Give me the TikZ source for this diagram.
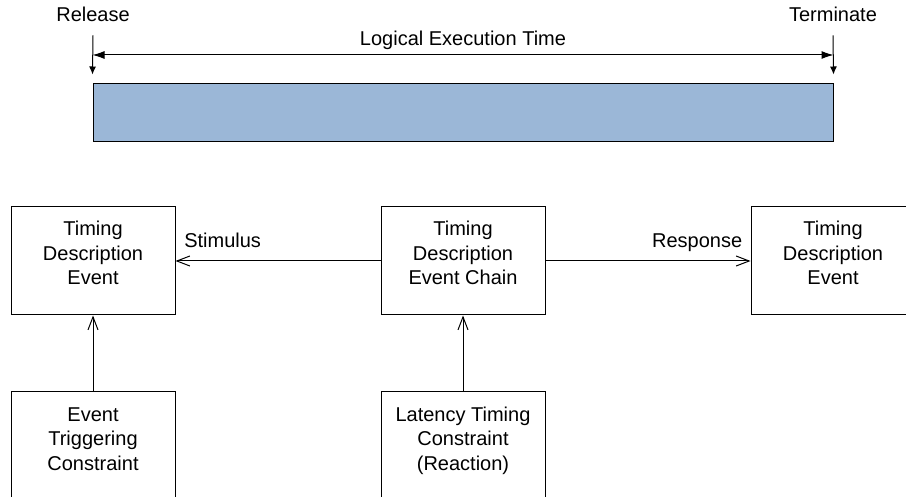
\documentclass[tikz,border=0pt]{standalone}
\usepackage{fontspec}
\setmainfont{Liberation Sans}
\usepackage{xcolor}
\usepackage{tikz}
\usetikzlibrary{positioning}
\usetikzlibrary{arrows.meta}
\definecolor{letblue}{HTML}{9BB7D7}

\begin{document}
\begin{tikzpicture}[x=1pt, y=1pt, node distance=76pt and 205pt, font=\fontsize{20}{24.5}\selectfont,
  tdbox/.style={rectangle, draw=black, line width=1pt, minimum width=164pt, minimum height=108pt, align=center, text height=63pt, text depth=15pt},
  flow/.style={line width=1pt, -{Straight Barb[length=13pt,width=10pt]}},
  edgelabel/.style={anchor=base, yshift=13pt}]
\path[use as bounding box, clip] (0,0) rectangle (906,-497);

\node (let) at (463,-113) [rectangle, draw=black, line width=1pt, fill=letblue, minimum width=740pt, minimum height=58pt] {};
\node (release) at (93,-22) [anchor=base, inner sep=0pt] {Release};
\node (terminate) at (833,-22) [anchor=base, inner sep=0pt] {Terminate};

\draw[-{Latex[length=8pt,width=7pt]}, line width=1pt] ([yshift=-13pt]release.south) -- ([yshift=9pt]let.north west);
\draw[-{Latex[length=8pt,width=7pt]}, line width=1pt] ([yshift=-13pt]terminate.south) -- ([yshift=9pt]let.north east);
\draw[{Latex[length=12pt,width=8pt]}-{Latex[length=12pt,width=8pt]}, line width=1pt] ([yshift=28.5pt]let.north west) -- node[anchor=base, yshift=9.5pt] (lettext) {Logical Execution Time} ([yshift=28.5pt]let.north east);

\node (stimevt) at (93,-261) [tdbox] {Timing\\Description\\Event};
\node (chain) [tdbox, right=of stimevt] {Timing\\Description\\Event Chain};
\node (respevt) [tdbox, right=of chain] {Timing\\Description\\Event};
\node (trigger) [tdbox, below=of stimevt] {Event\\Triggering\\Constraint};
\node (latency) [tdbox, below=of chain] {Latency Timing\\Constraint\\(Reaction)};

\draw[flow] (chain) -- node[edgelabel, pos=0.77] (stimtext) {Stimulus} (stimevt);
\draw[flow] (chain) -- node[edgelabel, pos=0.74] (resptext) {Response} (respevt);
\draw[flow] (trigger) -- (stimevt);
\draw[flow] (latency) -- (chain);
\end{tikzpicture}
\end{document}
